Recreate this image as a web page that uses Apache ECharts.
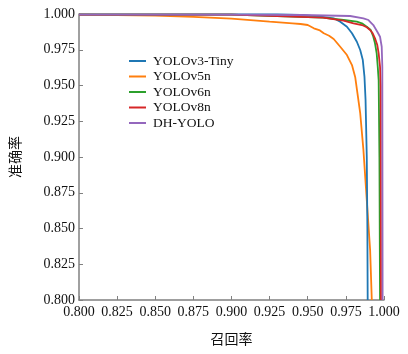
<!DOCTYPE html>
<html>
<head>
<meta charset="utf-8">
<script src="https://cdn.jsdelivr.net/npm/echarts@6/dist/echarts.min.js"></script>
<style>
  html, body { margin: 0; padding: 0; background: #fff; }
  #chart { width: 408px; height: 354px; }
</style>
</head>
<body>
<div id="chart"></div>
<script>
// PR curves, [recall, precision]
var names = ['YOLOv3-Tiny', 'YOLOv5n', 'YOLOv6n', 'YOLOv8n', 'DH-YOLO'];
var colors = ['#1f77b4', '#ff7f0e', '#2ca02c', '#d62728', '#9467bd'];

var yolov3tiny = [
  [0.800, 0.9997], [0.900, 0.9998], [0.930, 0.9998], [0.9453, 0.9993], [0.958, 0.9981],
  [0.967, 0.9970], [0.9713, 0.9946], [0.9757, 0.9911], [0.979, 0.9865], [0.9822, 0.9806],
  [0.9844, 0.9748], [0.9861, 0.9678], [0.9872, 0.9560], [0.9879, 0.9400], [0.9887, 0.9000],
  [0.9891, 0.8500], [0.9893, 0.8000]
];
var yolov5n = [
  [0.800, 0.9995], [0.850, 0.9988], [0.875, 0.9980], [0.900, 0.9967], [0.925, 0.9946],
  [0.940, 0.9935], [0.9453, 0.9930], [0.950, 0.9923], [0.954, 0.9900], [0.958, 0.9885],
  [0.9605, 0.9865], [0.964, 0.9848], [0.967, 0.9825], [0.9713, 0.9771], [0.9757, 0.9713],
  [0.979, 0.9643], [0.9811, 0.9560], [0.9826, 0.9445], [0.9844, 0.9306], [0.9865, 0.9050],
  [0.9887, 0.8700], [0.9909, 0.8350], [0.9920, 0.8000]
];
var yolov6n = [
  [0.800, 0.9995], [0.900, 0.9995], [0.960, 0.9975], [0.9735, 0.9958], [0.9822, 0.9946],
  [0.9855, 0.9935], [0.9887, 0.9911], [0.9913, 0.9888], [0.9930, 0.9841], [0.9941, 0.9795],
  [0.9952, 0.9725], [0.9959, 0.9631], [0.9965, 0.9538], [0.9970, 0.9000], [0.9974, 0.8000]
];
var yolov8n = [
  [0.800, 0.9995], [0.900, 0.9995], [0.960, 0.9975], [0.9735, 0.9953], [0.980, 0.9935],
  [0.9855, 0.9923], [0.9887, 0.9907], [0.9909, 0.9888], [0.9926, 0.9865], [0.9941, 0.9830],
  [0.9956, 0.9783], [0.9965, 0.9725], [0.9974, 0.9631], [0.9978, 0.9492], [0.9980, 0.8000]
];
var dhyolo = [
  [0.800, 0.9996], [0.900, 0.9996], [0.9453, 0.9993], [0.9778, 0.9986], [0.9865, 0.9970],
  [0.9898, 0.9958], [0.9930, 0.9923], [0.9956, 0.9876], [0.9974, 0.9841], [0.9985, 0.9771],
  [0.9989, 0.9631], [0.9991, 0.8000]
];
var curves = [yolov3tiny, yolov5n, yolov6n, yolov8n, dhyolo];

var serif = '"Liberation Serif", "Times New Roman", serif';
var cjk = '"Noto Sans CJK SC", sans-serif';

var chart = echarts.init(document.getElementById('chart'));

var series = [];
for (var i = 0; i < names.length; i++) {
  series.push({
    name: names[i],
    type: 'line',
    data: curves[i],
    showSymbol: false,
    symbol: 'none',
    clip: true,
    z: i === 1 ? 1 : 2 + i,
    lineStyle: { color: colors[i], width: 1.8 },
    itemStyle: { color: colors[i] }
  });
}

var option = {
  backgroundColor: '#fff',
  animation: false,
  grid: { left: 77, right: 24, top: 14, bottom: 54 },
  legend: {
    orient: 'vertical',
    left: 129,
    top: 54,
    padding: 0,
    icon: 'rect',
    itemWidth: 17,
    itemHeight: 2,
    itemGap: 1.5,
    data: names,
    textStyle: { fontFamily: serif, fontSize: 13.5, color: '#111', padding: [0, 0, 0, 2] }
  },
  xAxis: {
    type: 'value',
    min: 0.8,
    max: 1.0,
    interval: 0.025,
    name: '召回率',
    nameLocation: 'middle',
    nameGap: 32,
    nameTextStyle: { fontFamily: cjk, fontSize: 14, color: '#111' },
    axisLine: { show: true, lineStyle: { color: '#808080', width: 1.5 } },
    axisTick: { show: true, inside: true, length: 4, lineStyle: { color: '#808080' } },
    axisLabel: {
      fontFamily: serif, fontSize: 14, color: '#111', margin: 5,
      formatter: function (v) { return v.toFixed(3); }
    },
    splitLine: { show: false }
  },
  yAxis: {
    type: 'value',
    min: 0.8,
    max: 1.0,
    interval: 0.025,
    name: '准确率',
    nameLocation: 'middle',
    nameRotate: 90,
    nameGap: 57,
    nameTextStyle: { fontFamily: cjk, fontSize: 14, color: '#111' },
    axisLine: { show: true, lineStyle: { color: '#808080', width: 1.5 } },
    axisTick: { show: true, inside: true, length: 4, lineStyle: { color: '#808080' } },
    axisLabel: {
      fontFamily: serif, fontSize: 14, color: '#111', margin: 4,
      formatter: function (v) { return v.toFixed(3); }
    },
    splitLine: { show: false }
  },
  series: series
};

chart.setOption(option);
</script>
</body>
</html>
